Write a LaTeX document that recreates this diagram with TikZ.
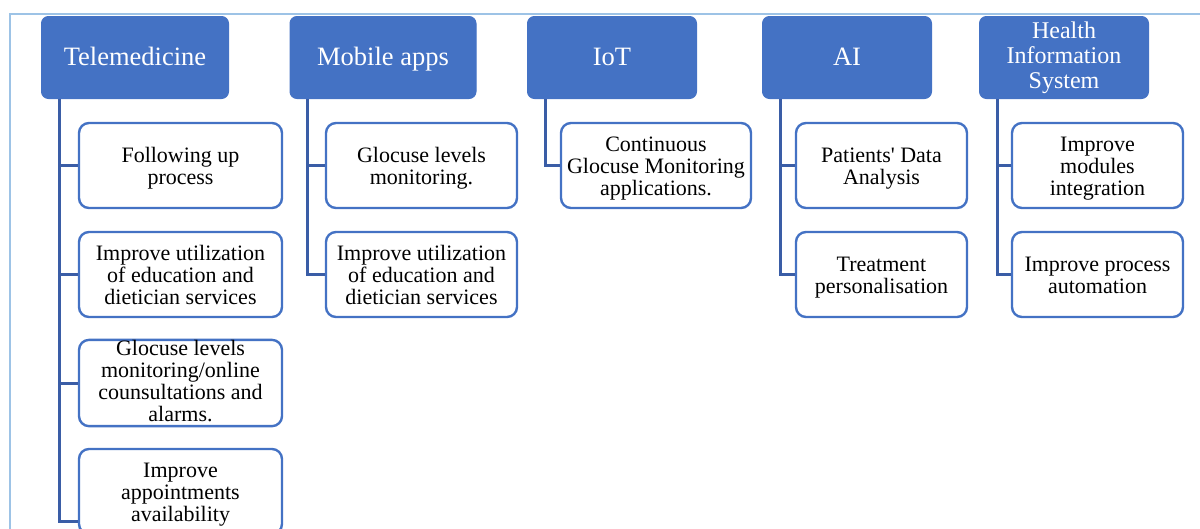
\documentclass[tikz,border=0pt]{standalone}
\usepackage{fontspec}
\setmainfont{Liberation Serif}
\usetikzlibrary{calc}

\definecolor{accent}{HTML}{4472C4}
\definecolor{linkblue}{HTML}{3A5DA6}
\definecolor{framecol}{HTML}{9DC3E6}

% invisible strut giving every first line the same height
\newcommand{\firstline}{\rule{0pt}{20pt}}

\tikzset{
  head/.style={fill=accent, draw=accent, line width=1pt, rounded corners=7pt,
    text=white, align=center, inner sep=0pt, minimum height=82pt,
    font=\fontsize{26.5}{28}\selectfont},
  headone/.style={head, text height=20pt, text depth=4pt},
  item/.style={draw=accent, line width=2.4pt, fill=white, rounded corners=10pt,
    align=center, inner sep=0pt, minimum height=85pt,
    font=\fontsize{22}{22}\selectfont,
    execute at end node={\rule[-5pt]{0pt}{5pt}}},
  % four-line item: text fills the whole box, no extra struts
  itemfull/.style={item, execute at end node={}},
  link/.style={draw=linkblue, line width=3pt},
}

\begin{document}
\begin{tikzpicture}[x=1pt, y=-1pt]
  \useasboundingbox (0,0) rectangle (1200,528);
  \clip (0,0) rectangle (1200,528);

  % outer frame
  \draw[framecol, line width=1.5pt] (10,530) -- (10,14) -- (1202,14);

  % category headers
  \node[headone, minimum width=187pt] (tele) at (135,57.5) {Telemedicine};
  \node[headone, minimum width=186pt] (mob)  at (383,57.5) {Mobile apps};
  \node[headone, minimum width=169pt] (iot)  at (612,57.5) {IoT};
  \node[headone, minimum width=169pt] (ai)   at (847,57.5) {AI};
  \node[head, minimum width=169pt, font=\fontsize{24}{25}\selectfont] (his) at (1064,57.5)
    {Health\\Information\\System};

  % Telemedicine items
  \node[item, minimum width=203pt] (t1) at (180.5,165.5) {\firstline Following up\\process};
  \node[item, minimum width=203pt] (t2) at (180.5,274.5) {\firstline Improve utilization\\of education and\\dietician services};
  \node[itemfull, minimum width=203pt] (t3) at (180.5,383) {Glocuse levels\\monitoring/online\\counsultations and\\alarms.};
  \node[item, minimum width=203pt] (t4) at (180.5,491.5) {\firstline Improve\\appointments\\availability};

  % Mobile apps items
  \node[item, minimum width=191pt] (m1) at (421.5,165.5) {\firstline Glocuse levels\\monitoring.};
  \node[item, minimum width=191pt] (m2) at (421.5,274.5) {\firstline Improve utilization\\of education and\\dietician services};

  % IoT item
  \node[item, minimum width=190pt] (i1) at (656,165.5) {\firstline Continuous\\Glocuse Monitoring\\applications.};

  % AI items
  \node[item, minimum width=171pt] (a1) at (881.5,165.5) {\firstline Patients\textquotesingle{} Data\\Analysis};
  \node[item, minimum width=171pt] (a2) at (881.5,274.5) {\firstline Treatment\\personalisation};

  % Health Information System items
  \node[item, minimum width=171pt] (h1) at (1097.5,165.5) {\firstline Improve\\modules\\integration};
  \node[item, minimum width=171pt] (h2) at (1097.5,274.5) {\firstline Improve process\\automation};

  % connectors from each header down to its items
  \coordinate (t4tick) at ($(t4.west)+(0,29.5)$);
  \foreach \h/\c in {tele/t1, tele/t2, tele/t3, tele/t4tick,
                     mob/m1, mob/m2, iot/i1, ai/a1, ai/a2, his/h1, his/h2}{
    \draw[link] ($(\h.south west)+(18,0)$) |- (\c);
  }
\end{tikzpicture}
\end{document}
